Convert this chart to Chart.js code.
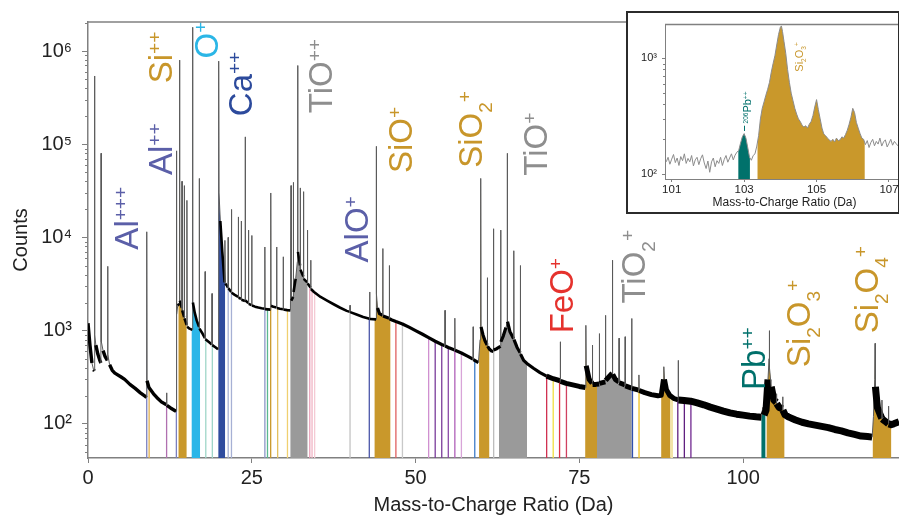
<!DOCTYPE html>
<html lang="en">
<head>
<meta charset="UTF-8">
<title>Mass spectrum</title>
<script src="https://cdn.jsdelivr.net/npm/chart.js@4"></script>
<style>
  body { margin: 0; background: #fff; }
  #wrap { position: relative; width: 899px; height: 515px; overflow: hidden; }
  #inset-box { position: absolute; left: 626px; top: 11px; width: 270px; height: 199px;
               border: 2px solid #2b2b2b; background: #fff; overflow: hidden; }
  #inset { display: block; }
</style>
</head>
<body>
<div id="wrap">
  <canvas id="main" width="899" height="515"></canvas>
  <div id="inset-box"><canvas id="inset" width="280" height="199"></canvas></div>
</div>
<script>
// ---- data (mass-to-charge in Da, counts) ----
const spectrum = [
  [0.0,1200],[0.3,700],[0.6,450],[0.85,380],[0.97,370],[1.0,540000],[1.04,900],[1.2,700],[1.5,560],[1.8,480],[1.97,450],
  [2.0,80000],[2.04,760],[2.3,610],[2.6,530],[2.95,480],[3.0,4900],[3.04,560],[3.3,430],[3.7,375],[4.1,350],[5.0,320],
  [5.6,300],[6.4,265],[7.2,240],[8.0,215],[8.7,198],[8.93,192],[8.97,11500],[9.01,290],[9.3,245],[10.0,210],[10.5,192],
  [11.2,172],[11.97,160],[12.0,215],[12.04,158],[12.6,148],[13.3,138],[13.45,136],
  [13.5,85000],[13.55,1500],[13.7,1850],[13.92,1950],[13.97,800000],[14.02,2100],[14.32,1750],[14.35,40000],[14.38,1650],
  [14.67,1400],[14.7,36000],[14.73,1350],[15.07,1150],[15.1,25000],[15.14,1100],[15.5,1050],[15.93,1020],
  [15.96,1800000],[16.01,2000],[16.3,1550],[16.6,1280],[16.95,1100],[16.98,43000],[17.02,1050],[17.4,950],[17.85,830],
  [17.88,4300],[17.92,810],[18.5,750],[18.9,710],[18.93,2500],[18.97,700],[19.5,660],[19.85,630],
  [19.95,780000],[20.0,30000],[20.2,15000],[20.5,7000],[20.85,3300],[20.9,9300],[20.95,3200],[21.2,3050],[21.37,2900],
  [21.4,10000],[21.43,2850],[21.87,2600],[21.9,20000],[21.93,2550],[22.4,2420],[22.93,2300],[22.95,16600],[22.98,2250],
  [23.37,2200],[23.4,15000],[23.43,2150],[23.97,2080],[24.0,120000],[24.03,2100],[24.47,1980],[24.5,12000],[24.53,1940],
  [24.97,1880],[25.0,10500],[25.03,1860],[25.5,1810],[26.0,1770],[26.5,1740],[26.97,1720],[27.0,7900],[27.03,1700],
  [27.87,1680],[27.9,30000],[27.94,1850],[28.3,1800],[28.77,1770],[28.8,7900],[28.83,1750],[29.3,1720],[29.77,1700],
  [29.8,6200],[29.83,1690],[30.4,1660],[30.9,1650],
  [31.0,36000],[31.03,2100],[31.32,2300],[31.35,39000],[31.38,2600],[31.7,3600],[31.96,5500],[32.0,700000],[32.05,7000],
  [32.37,5000],[32.4,34000],[32.43,4500],[32.87,3800],[32.9,31000],[32.93,3600],[33.47,3300],[33.5,12000],[33.53,3200],
  [33.97,2900],[34.0,5700],[34.03,2800],[34.5,2600],[35.5,2300],[36.5,2100],[37.5,1920],[38.5,1760],[39.5,1630],
  [39.97,1590],[40.0,1870],[40.03,1580],[41.0,1490],[42.0,1400],[42.97,1340],[43.0,2600],[43.03,1335],[43.97,1320],
  [44.0,95000],[44.05,2500],[44.2,1750],[44.5,1520],[44.97,1460],[45.0,7600],[45.03,1440],[45.97,1360],[46.0,5000],
  [46.03,1340],[46.5,1290],[47.0,1250],[48.0,1180],[49.0,1090],[50.0,1000],[51.0,920],[52.0,840],[53.0,770],[54.0,710],
  [54.47,690],[54.5,1650],[54.53,685],[55.0,660],[55.97,620],[56.0,1360],[56.03,615],[57.0,575],[58.0,530],[58.77,495],
  [58.8,1100],[58.83,490],[59.6,455],
  [59.85,800],[59.95,43000],[60.0,1100],[60.3,900],[60.6,780],[60.93,700],[60.96,3700],[61.0,680],[61.3,630],[61.6,605],
  [61.87,600],[61.9,12400],[61.93,620],[62.4,640],[62.97,680],[63.0,12000],[63.03,760],[63.4,880],[63.8,1080],
  [63.97,1200],[64.0,80000],[64.04,1250],[64.4,980],[64.97,820],[65.0,7200],[65.03,800],[65.5,660],[65.97,580],
  [66.0,5000],[66.03,560],[66.5,480],[67.0,445],
  [68.0,395],[69.0,355],[70.0,325],[71.0,305],[72.07,290],[72.1,760],[72.13,285],[73.0,272],[74.0,262],[75.0,252],[75.93,245],
  [76.0,1140],[76.05,420],[76.5,300],[76.97,272],[77.0,700],[77.03,265],[77.5,265],[78.03,268],[78.06,930],[78.09,272],
  [78.97,282],[79.0,1460],[79.03,292],[79.6,325],[80.02,350],[80.05,5700],[80.1,340],[80.5,300],[81.04,282],[81.07,830],
  [81.1,276],[81.97,262],[82.0,860],[82.03,256],[82.97,242],[83.0,1350],[83.03,240],[83.5,236],[84.07,230],[84.1,335],
  [84.13,228],[85.0,216],[86.0,206],[87.0,200],[87.5,202],[87.85,300],[87.9,410],[88.0,300],[88.3,232],[88.8,202],
  [89.5,186],[90.07,181],[90.1,480],[90.13,180],[91.0,178],[92.0,175],[93.0,168],[94.0,160],[95.0,151],[96.0,144],
  [97.0,137],[98.0,131],[99.0,127],[100.0,124],[101.0,121],[102.0,119],[102.8,118],[103.0,150],[103.2,124],[103.5,140],
  [103.8,300],[103.97,500],[104.0,1000],[104.05,400],[104.3,250],[104.7,180],[105.07,170],[105.1,210],[105.13,165],
  [105.5,150],[106.02,145],[106.05,195],[106.08,140],[106.4,125],
  [107.0,118],[108.0,110],[109.0,104],[110.0,100],[111.0,97],[112.0,94],[113.0,91],[114.0,87],[115.0,84],[116.0,80],
  [117.0,77],[118.0,74],[119.0,73],[119.7,72],[119.9,120],[120.1,300],[120.15,730],[120.2,250],[120.5,150],[121.0,122],
  [121.17,115],[121.2,180],[121.23,113],[121.8,105],[122.17,100],[122.2,155],[122.23,100],[122.6,98],[123.0,100],[123.8,105]
];

// ranging windows: [from, to, colour]
const rangeBands = [
  [8.9,9.03,'#7a7fc0'],[9.28,9.38,'#e0b050'],[11.95,12.05,'#b070b0'],[13.44,13.54,'#7a7fc0'],
  [13.82,15.05,'#c9982b'],[15.83,17.1,'#2bb6e8'],[17.93,18.03,'#9fd6c8'],[18.93,19.03,'#9fd6c8'],
  [19.9,20.92,'#2f4c9e'],[21.35,21.45,'#a6b0d4'],[21.85,21.95,'#a6b0d4'],
  [26.95,27.05,'#8d96c8'],[27.35,27.45,'#5cb890'],[27.82,27.95,'#c9982b'],[28.9,29.0,'#e2c060'],[30.4,30.5,'#f0d070'],
  [30.9,33.5,'#9a9a9a'],[33.8,33.9,'#e8a0b8'],[34.15,34.25,'#f0b4c4'],[34.55,34.65,'#f4cad4'],
  [39.95,40.05,'#c4c4c4'],[42.88,43.0,'#4a55a8'],[43.75,46.15,'#c9982b'],[46.95,47.05,'#e06060'],[47.95,48.05,'#c8c8c8'],
  [51.95,52.05,'#d090d0'],[52.95,53.05,'#7a3c9a'],[53.95,54.05,'#7a3c9a'],[54.95,55.05,'#8a4aa8'],
  [55.95,56.05,'#b060b8'],[56.95,57.05,'#d8a4d8'],[58.98,59.1,'#3d7cc8'],
  [59.7,61.25,'#c9982b'],[61.85,62.0,'#bdbdbd'],[62.75,67.0,'#9a9a9a'],
  [69.95,70.08,'#d03050'],[70.95,71.08,'#f0e040'],[71.92,72.05,'#e03040'],[72.97,73.1,'#d04060'],
  [75.9,77.7,'#c9982b'],[77.7,83.0,'#9a9a9a'],[83.05,83.18,'#3050b0'],[84.05,84.18,'#f0c020'],
  [87.5,88.9,'#c9982b'],[88.9,89.3,'#f2e4a8'],[89.97,90.1,'#602080'],[90.97,91.1,'#602080'],[91.97,92.1,'#702890'],
  [102.8,103.4,'#00716b'],[103.6,106.3,'#c9982b'],[119.8,122.6,'#c9982b']
];

const xTicks = [0, 25, 50, 75, 100];
const yTicks = [1e2, 1e3, 1e4, 1e5, 1e6];

// ion labels: anchor = start of the rotated baseline (Da, counts)
const ionLabels = [
  { x: 7.68,  y: 7400,   color: '#5b5fa8', parts: [['Al',''],['+++','sup']] },
  { x: 12.86, y: 46800,  color: '#5b5fa8', parts: [['Al',''],['++','sup']] },
  { x: 12.86, y: 451000, color: '#c8962a', parts: [['Si',''],['++','sup']] },
  { x: 19.88, y: 832000, color: '#2bb6e6', parts: [['O',''],['+','sup']] },
  { x: 25.07, y: 200000, color: '#2c4a9c', parts: [['Ca',''],['++','sup']] },
  { x: 37.28, y: 215000, color: '#8e8e8e', parts: [['TiO',''],['++','sup']] },
  { x: 42.77, y: 5400,   color: '#5b5fa8', parts: [['AlO',''],['+','sup']] },
  { x: 49.49, y: 49000,  color: '#c8962a', parts: [['SiO',''],['+','sup']] },
  { x: 60.17, y: 56000,  color: '#c8962a', parts: [['SiO',''],['2','sub'],['+','sup']] },
  { x: 70.09, y: 46000,  color: '#8e8e8e', parts: [['TiO',''],['+','sup']] },
  { x: 74.06, y: 935,    color: '#e5322d', parts: [['FeO',''],['+','sup']] },
  { x: 85.05, y: 1950,   color: '#8e8e8e', parts: [['TiO',''],['2','sub'],['+','sup']] },
  { x: 103.35, y: 231,   color: '#00706b', parts: [['Pb',''],['++','sup']] },
  { x: 110.2, y: 406,    color: '#c8962a', parts: [['Si',''],['2','sub'],['O',''],['3','sub'],['+','sup']] },
  { x: 120.6, y: 935,    color: '#c8962a', parts: [['Si',''],['2','sub'],['O',''],['4','sub'],['+','sup']] }
];

// inset: zoom on 101-107 Da
const insetSpectrum = [
  [100.85,128],[100.9,140],[100.95,122],[101.0,135],[101.05,148],[101.1,126],[101.15,138],[101.2,119],[101.25,142],
  [101.3,131],[101.35,150],[101.4,124],[101.45,137],[101.5,128],[101.55,145],[101.6,118],[101.65,133],[101.7,140],
  [101.75,121],[101.8,136],[101.85,147],[101.9,125],[101.95,112],[102.0,130],[102.05,104],[102.1,128],[102.15,138],
  [102.2,116],[102.25,131],[102.3,124],[102.35,140],[102.4,119],[102.45,134],[102.5,145],[102.55,127],[102.6,138],
  [102.65,150],[102.7,133],[102.75,146],[102.8,155],[102.85,160],[102.9,185],[102.95,210],[103.0,224],[103.05,205],
  [103.1,170],[103.15,140],[103.2,132],[103.25,145],[103.3,150],[103.35,175],[103.4,215],[103.45,300],[103.5,370],
  [103.55,420],[103.6,480],[103.65,540],[103.7,620],[103.75,760],[103.8,900],[103.85,1050],[103.9,1300],[103.95,1600],
  [104.0,1850],[104.03,1900],[104.06,1700],[104.1,1400],[104.15,1100],[104.2,800],[104.25,620],[104.3,500],[104.35,430],
  [104.4,370],[104.45,330],[104.5,300],[104.55,285],[104.6,265],[104.65,255],[104.7,262],[104.75,250],[104.8,270],
  [104.85,285],[104.9,320],[104.95,380],[105.0,440],[105.05,360],[105.1,300],[105.15,250],[105.2,222],[105.25,215],
  [105.3,205],[105.35,198],[105.4,192],[105.45,200],[105.5,190],[105.55,205],[105.6,195],[105.65,198],[105.7,210],
  [105.75,205],[105.8,220],[105.85,240],[105.9,270],[105.95,310],[106.0,370],[106.05,340],[106.1,280],[106.15,250],
  [106.2,225],[106.25,205],[106.3,200],[106.35,180],[106.4,195],[106.45,170],[106.5,188],[106.55,200],[106.6,176],
  [106.65,192],[106.7,182],[106.75,205],[106.8,175],[106.85,190],[106.9,198],[106.95,172],[107.0,185],[107.05,200],
  [107.1,178],[107.15,192],[107.2,183],[107.25,176],[107.3,190],[107.35,181],[107.4,195]
];
const insetBands = [[102.84,103.16,'#00716b'],[103.37,106.33,'#c9982b']];
const insetXTicks = [101, 103, 105, 107];
const insetYTicks = [1e2, 1e3];
const insetLabels = [
  { x: 103.2, y: 274, color: '#00706b', parts: [['206','sup'],['Pb',''],['++','sup']] },
  { x: 104.62, y: 766, color: '#c8962a', parts: [['Si',''],['2','sub'],['O',''],['3','sub'],['+','sup']] }
];

// ---- helpers ----
const FONT = '"Liberation Sans", Arial, Helvetica, sans-serif';
const AXIS = '#808080';
const SUP = '⁰¹²³⁴⁵⁶⁷⁸⁹';
const pow10Label = v => '10' + String(Math.round(Math.log10(v))).split('').map(d => SUP[d]).join('');

function bandPlugin(bands) {
  return {
    id: 'bands',
    beforeDatasetsDraw(chart) {
      const { ctx, chartArea: a, scales: { x } } = chart;
      const pts = chart.getDatasetMeta(0).data;
      const path = new Path2D();
      path.moveTo(pts[0].x, a.bottom);
      pts.forEach(p => path.lineTo(p.x, p.y));
      path.lineTo(pts[pts.length - 1].x, a.bottom);
      path.closePath();
      bands.forEach(([lo, hi, color]) => {
        let x0 = x.getPixelForValue(lo), x1 = x.getPixelForValue(hi);
        if (x1 - x0 < 1.3) { const m = (x0 + x1) / 2; x0 = m - 0.65; x1 = m + 0.65; }
        ctx.save();
        ctx.beginPath();
        ctx.rect(x0, a.top, x1 - x0, a.bottom - a.top);
        ctx.clip();
        ctx.fillStyle = color;
        ctx.fill(path);
        ctx.restore();
      });
    }
  };
}

function axisExtras(minorLen) {
  return {
    id: 'axisExtras',
    afterDraw(chart) {
      const { ctx, chartArea: a, scales: { y } } = chart;
      ctx.save();
      ctx.strokeStyle = AXIS;
      ctx.lineWidth = 1;
      ctx.beginPath();
      for (let e = Math.floor(Math.log10(y.min)); e <= Math.ceil(Math.log10(y.max)); e++) {
        for (let m = 2; m <= 9; m++) {
          const v = m * Math.pow(10, e);
          if (v < y.min || v > y.max) continue;
          const py = Math.round(y.getPixelForValue(v)) + 0.5;
          ctx.moveTo(a.left, py);
          ctx.lineTo(a.left - minorLen, py);
        }
      }
      ctx.stroke();
      ctx.lineWidth = 1.5;
      ctx.beginPath();
      ctx.moveTo(a.left, a.top);
      ctx.lineTo(a.right, a.top);
      ctx.stroke();
      ctx.restore();
    }
  };
}

function labelPlugin(labels, big, small) {
  return {
    id: 'ionLabels',
    afterDatasetsDraw(chart) {
      const { ctx, scales: { x, y } } = chart;
      labels.forEach(l => {
        ctx.save();
        ctx.translate(x.getPixelForValue(l.x), y.getPixelForValue(l.y));
        ctx.rotate(-Math.PI / 2);
        ctx.fillStyle = l.color;
        ctx.textAlign = 'left';
        ctx.textBaseline = 'alphabetic';
        let cx = 0;
        l.parts.forEach(([t, kind]) => {
          ctx.font = (kind ? small : big) + 'px ' + FONT;
          const dy = kind === 'sup' ? -big * 0.34 : kind === 'sub' ? big * 0.3 : 0;
          ctx.fillText(t, cx, dy);
          cx += ctx.measureText(t).width;
        });
        ctx.restore();
      });
    }
  };
}

// noise band gets wider toward high mass
function lineWidthAt(xv) {
  if (xv < 13.4) return 3.4;
  if (xv < 44) return 2.6;
  if (xv < 70) return 3.2;
  if (xv < 90) return 5;
  return 7;
}
// peaks: steep, closely spaced segments -> thin grey stroke
const isSpike = c => {
  const dx = Math.abs(c.p1.x - c.p0.x), dy = Math.abs(c.p1.y - c.p0.y);
  return dx < 1.8 && dy > 4 && dy > 3 * dx;
};

// ---- main chart ----
new Chart(document.getElementById('main'), {
  type: 'line',
  data: {
    datasets: [{
      data: spectrum.map(([x, y]) => ({ x, y })),
      borderColor: '#000',
      borderWidth: 2.5,
      borderJoinStyle: 'round',
      pointRadius: 0,
      tension: 0,
      segment: {
        borderWidth: c => isSpike(c) ? 1 : lineWidthAt(c.p0.parsed.x),
        borderColor: c => isSpike(c) ? '#5a5a5a' : '#000'
      }
    }]
  },
  options: {
    responsive: false,
    animation: false,
    devicePixelRatio: 1,
    layout: { padding: { top: 21, right: 0, left: 0, bottom: 0 } },
    plugins: { legend: { display: false }, tooltip: { enabled: false } },
    scales: {
      x: {
        type: 'linear', min: 0, max: 123.8,
        afterBuildTicks: s => { s.ticks = xTicks.map(v => ({ value: v })); },
        afterFit: s => { s.height = 57; },
        grid: { drawOnChartArea: false, tickLength: 5, color: AXIS, tickWidth: 1 },
        border: { color: AXIS, width: 1.5 },
        ticks: { font: { size: 20, family: FONT }, color: '#222', padding: 3, maxRotation: 0, autoSkip: false },
        title: { display: true, text: 'Mass-to-Charge Ratio (Da)', color: '#222',
                 font: { size: 20, family: FONT, lineHeight: 1 }, padding: { top: 0, bottom: 0 } }
      },
      y: {
        type: 'logarithmic', min: 43, max: 2.05e6,
        afterBuildTicks: s => { s.ticks = yTicks.map(v => ({ value: v })); },
        afterFit: s => { s.width = 88; },
        grid: { drawOnChartArea: false, tickLength: 6, color: AXIS, tickWidth: 1 },
        border: { color: AXIS, width: 1.5 },
        ticks: { font: { size: 20, family: FONT }, color: '#222', padding: 10, callback: v => pow10Label(v) },
        title: { display: true, text: 'Counts', color: '#222',
                 font: { size: 20, family: FONT, lineHeight: 1 }, padding: { top: 11, bottom: 0 } }
      }
    }
  },
  plugins: [bandPlugin(rangeBands), axisExtras(3), labelPlugin(ionLabels, 33, 19)]
});

// ---- inset chart ----
new Chart(document.getElementById('inset'), {
  type: 'line',
  data: {
    datasets: [{
      data: insetSpectrum.map(([x, y]) => ({ x, y })),
      borderColor: '#8c8c8c',
      borderWidth: 1,
      pointRadius: 0,
      tension: 0
    }]
  },
  options: {
    responsive: false,
    animation: false,
    devicePixelRatio: 1,
    layout: { padding: { top: 5, right: 4, left: 0, bottom: 0 } },
    plugins: { legend: { display: false }, tooltip: { enabled: false } },
    scales: {
      x: {
        type: 'linear', min: 100.815, max: 107.415,
        afterBuildTicks: s => { s.ticks = insetXTicks.map(v => ({ value: v })); },
        afterFit: s => { s.height = 33; },
        grid: { drawOnChartArea: false, tickLength: 3, color: AXIS },
        border: { color: AXIS, width: 1 },
        ticks: { font: { size: 11.5, family: FONT }, color: '#222', padding: 1, maxRotation: 0, autoSkip: false },
        title: { display: true, text: 'Mass-to-Charge Ratio (Da)', color: '#222',
                 font: { size: 12, family: FONT, lineHeight: 1 }, padding: { top: 0, bottom: 3 } }
      },
      y: {
        type: 'logarithmic', min: 91, max: 1950,
        afterBuildTicks: s => { s.ticks = insetYTicks.map(v => ({ value: v })); },
        afterFit: s => { s.width = 37; },
        grid: { drawOnChartArea: false, tickLength: 3, color: AXIS },
        border: { color: AXIS, width: 1 },
        ticks: { font: { size: 11, family: FONT }, color: '#222', padding: 5, callback: v => pow10Label(v) }
      }
    }
  },
  plugins: [bandPlugin(insetBands), axisExtras(2), labelPlugin(insetLabels, 11, 6.5), {
    id: 'pbLeader',
    afterDatasetsDraw(chart) {
      const { ctx, scales: { x, y } } = chart;
      const px = Math.round(x.getPixelForValue(103.0)) + 0.5;
      ctx.save();
      ctx.strokeStyle = '#00706b';
      ctx.lineWidth = 1;
      ctx.beginPath();
      ctx.moveTo(px, y.getPixelForValue(236));
      ctx.lineTo(px, y.getPixelForValue(262));
      ctx.stroke();
      ctx.restore();
    }
  }]
});
</script>
</body>
</html>
